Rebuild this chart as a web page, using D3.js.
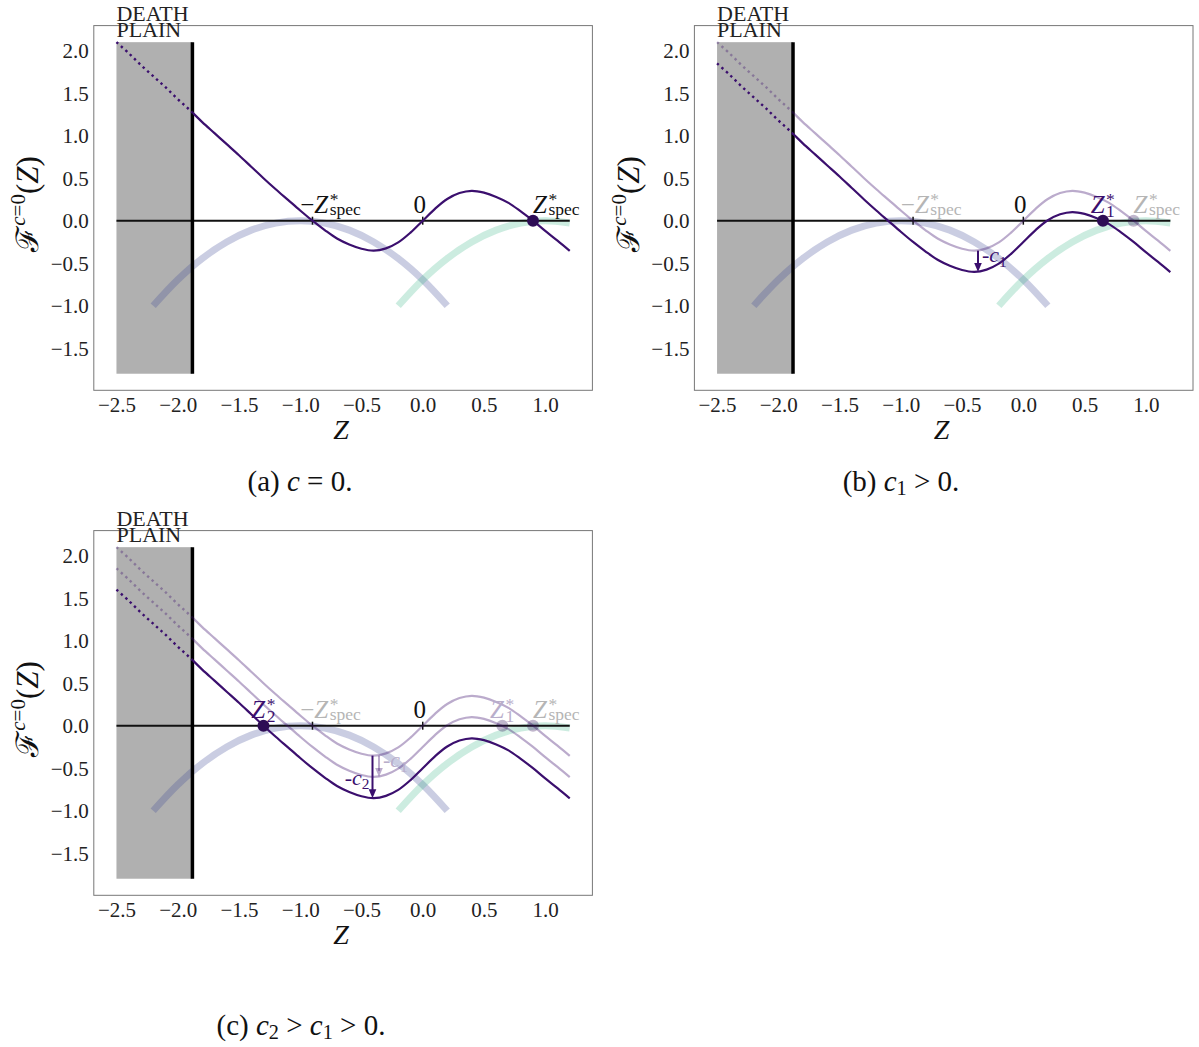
<!DOCTYPE html>
<html><head><meta charset="utf-8">
<script src="https://cdn.jsdelivr.net/npm/d3@7"></script>
<style>
body{margin:0;background:#fff}
text{font-family:"Liberation Serif","Times New Roman",serif;white-space:pre}
</style>
</head><body>
<svg id="chart" width="1199" height="1047"></svg>
<script>
// ---------------- data ----------------
const zGrid = [-2.5,-2.4,-2.3,-2.2,-2.1,-2.0,-1.9,-1.8,-1.7,-1.6,-1.5,-1.4,-1.3,-1.2,-1.1,-1.0,-0.9,-0.8,-0.7,-0.6,-0.5,-0.4,-0.3,-0.2,-0.1,0.0,0.1,0.2,0.3,0.4,0.5,0.6,0.7,0.8,0.9,1.0,1.1,1.2];
const F0 = [2.10,1.97,1.83,1.70,1.57,1.43,1.30,1.16,1.03,0.90,0.77,0.635,0.50,0.37,0.245,0.12,0.00,-0.11,-0.21,-0.28,-0.33,-0.352,-0.325,-0.255,-0.14,0.00,0.14,0.255,0.325,0.352,0.33,0.28,0.21,0.11,0.00,-0.12,-0.235,-0.355];
const blueZ = [-2.2,-2.0,-1.8,-1.6,-1.4,-1.2,-1.0,-0.8,-0.6,-0.4,-0.2,0.0,0.2];
const blueF = [-1.0,-0.694,-0.444,-0.25,-0.111,-0.028,0.0,-0.028,-0.111,-0.25,-0.444,-0.694,-1.0];
const greenZ = [-0.2,0.0,0.2,0.4,0.6,0.8,1.0,1.2];
const greenF = [-1.0,-0.694,-0.444,-0.25,-0.111,-0.028,0.0,-0.028];
const xTicks = [-2.5,-2.0,-1.5,-1.0,-0.5,0.0,0.5,1.0];
const yTicks = [-1.5,-1.0,-0.5,0.0,0.5,1.0,1.5,2.0];
const c1 = 0.25, c2 = 0.5;
const zSpec = 0.9, z1Star = 0.65, z2Star = -1.3, zDeath = -1.88, zMinF = -0.37;
const zLeft = -2.5, zRight = 1.2, fTop = 2.1, fBottom = -1.8;

// ---------------- styles ----------------
const PURPLE = "#3b0f6e", DOT = "#2e0d55", INK = "#111", GREY = "#b5b5b5", FADE = 0.35;

const svg = d3.select("#chart");
const plot = {left:93.8, right:592.4, top:25.6, bottom:390.3};
const xPad = 0.05*(zRight-zLeft), yPad = 0.05*(fTop-fBottom);
const x = d3.scaleLinear().domain([zLeft-xPad, zRight+xPad]).range([plot.left, plot.right]);
const y = d3.scaleLinear().domain([fBottom-yPad, fTop+yPad]).range([plot.bottom, plot.top]);

function rich(parent, px, py, parts, size, color, anchor){
  const t = parent.append("text").attr("x",px).attr("y",py).attr("font-size",size)
    .attr("fill",color).attr("text-anchor",anchor||"start");
  let cur=0, lastW=0;
  parts.forEach(p=>{
    const s = t.append("tspan").text(p.t);
    const fs = (p.sup||p.sub) ? size*(p.scale||0.7) : size;
    s.attr("font-size",fs);
    if(p.i) s.attr("font-style","italic");
    const lvl = p.sup ? -(p.raise!=null?p.raise:0.38)*size : p.sub ? (p.lower!=null?p.lower:0.18)*size : 0;
    s.attr("dy", lvl-cur); cur = lvl;
    let dx = 0;
    if(p.stack) dx -= lastW;
    if(p.dx) dx += p.dx;
    if(dx) s.attr("dx", dx);
    lastW = s.node().getComputedTextLength();
  });
  return t;
}
const negSpec = [{t:"−"},{t:"Z",i:1},{t:"*",sup:1,raise:0.3,dx:1.5},{t:"spec",sub:1,stack:1,lower:0.1}];
const spec = [{t:"Z",i:1},{t:"*",sup:1,raise:0.3,dx:1.5},{t:"spec",sub:1,stack:1,lower:0.1}];
const star1 = [{t:"Z",i:1},{t:"*",sup:1,raise:0.3,dx:1.5},{t:"1",sub:1,stack:1,lower:0.18}];
const star2 = [{t:"Z",i:1},{t:"*",sup:1,raise:0.3,dx:1.5},{t:"2",sub:1,stack:1,lower:0.18}];
const zero = [{t:"0"}];

const panels = [
  {dx:0, dy:0, shifts:[{c:0,fade:false}], dots:[{z:zSpec,fade:false}],
   labels:[{z:-1.0,parts:negSpec,color:INK},{z:0,parts:zero,color:INK,mid:1},{z:zSpec,parts:spec,color:INK}],
   arrows:[],
   caption:{cx:300, cy:491, parts:[{t:"(a) "},{t:"c",i:1},{t:" = 0."}]}},
  {dx:600.6, dy:0, shifts:[{c:0,fade:true},{c:c1,fade:false}], dots:[{z:zSpec,fade:true},{z:z1Star,fade:false}],
   labels:[{z:-1.0,parts:negSpec,color:GREY},{z:0,parts:zero,color:INK,mid:1},{z:z1Star-0.1,parts:star1,color:PURPLE},{z:zSpec,parts:spec,color:GREY}],
   arrows:[{z:zMinF,from:-0.352,to:-0.352-c1,fade:false,sub:"1",side:"right"}],
   caption:{cx:901, cy:491, parts:[{t:"(b) "},{t:"c",i:1},{t:"1",sub:1,lower:0.15},{t:" > 0."}]}},
  {dx:0, dy:505, shifts:[{c:0,fade:true},{c:c1,fade:true},{c:c2,fade:false}], dots:[{z:zSpec,fade:true},{z:z1Star,fade:true},{z:z2Star,fade:false}],
   labels:[{z:z2Star-0.1,parts:star2,color:PURPLE},{z:-1.0,parts:negSpec,color:GREY},{z:0,parts:zero,color:INK,mid:1},{z:z1Star-0.1,parts:star1,color:"#b9aecb"},{z:zSpec,parts:spec,color:GREY}],
   arrows:[{z:-0.357,from:-0.352,to:-0.352-c1,fade:true,sub:"1",side:"right"},{z:-0.41,from:-0.352,to:-0.352-c2,fade:false,sub:"2",side:"left"}],
   caption:{cx:301, cy:1035, parts:[{t:"(c) "},{t:"c",i:1},{t:"2",sub:1,lower:0.15},{t:" > "},{t:"c",i:1},{t:"1",sub:1,lower:0.15},{t:" > 0."}]}}
];

const line = d3.line().x(d=>x(d[0])).y(d=>y(d[1])).curve(d3.curveCatmullRom.alpha(0.5));

panels.forEach((P,pi)=>{
  const g = svg.append("g").attr("transform",`translate(${P.dx},${P.dy})`);
  const defs = g.append("defs");
  defs.append("clipPath").attr("id","cl"+pi).append("rect")
    .attr("x",plot.left).attr("y",plot.top).attr("width",x(zDeath)-plot.left).attr("height",plot.bottom-plot.top);
  defs.append("clipPath").attr("id","cr"+pi).append("rect")
    .attr("x",x(zDeath)).attr("y",plot.top).attr("width",plot.right-x(zDeath)).attr("height",plot.bottom-plot.top);

  // frame
  g.append("rect").attr("x",plot.left).attr("y",plot.top).attr("width",plot.right-plot.left)
    .attr("height",plot.bottom-plot.top).attr("fill","none").attr("stroke","#777").attr("stroke-width",1);

  // axes tick labels
  const ax = g.append("g").attr("transform",`translate(0,${plot.bottom})`)
    .call(d3.axisBottom(x).tickValues(xTicks).tickSize(0).tickPadding(7).tickFormat(d=>d3.format(".1f")(d).replace("-","−")));
  const ay = g.append("g").attr("transform",`translate(${plot.left},0)`)
    .call(d3.axisLeft(y).tickValues(yTicks).tickSize(0).tickPadding(5).tickFormat(d=>d3.format(".1f")(d).replace("-","−")));
  [ax,ay].forEach(a=>{a.select(".domain").remove(); a.selectAll("text").attr("font-size",21)
    .attr("font-family","Liberation Serif, serif").attr("fill","#222");});
  ay.selectAll("text").attr("dy","0.34em");

  // death plain
  g.append("rect").attr("x",x(zLeft)).attr("y",y(fTop)).attr("width",x(zDeath)-x(zLeft))
    .attr("height",y(fBottom)-y(fTop)).attr("fill","#b0b0b0");

  // bands
  g.append("path").datum(blueZ.map((z,i)=>[z,blueF[i]])).attr("d",line)
    .attr("fill","none").attr("stroke","#3f4d98").attr("stroke-opacity",0.28).attr("stroke-width",7);
  g.append("path").datum(greenZ.map((z,i)=>[z,greenF[i]])).attr("d",line)
    .attr("fill","none").attr("stroke","#35b583").attr("stroke-opacity",0.25).attr("stroke-width",7);

  // horizontal axis line and ticks
  g.append("line").attr("x1",x(zLeft)).attr("x2",x(zRight)).attr("y1",y(0)).attr("y2",y(0))
    .attr("stroke",INK).attr("stroke-width",2);
  [-zSpec,0].forEach(t=>g.append("line").attr("x1",x(t)).attr("x2",x(t)).attr("y1",y(0)-4).attr("y2",y(0)+4)
    .attr("stroke",INK).attr("stroke-width",1.5));

  // death line
  g.append("line").attr("x1",x(zDeath)).attr("x2",x(zDeath)).attr("y1",y(fTop)).attr("y2",y(fBottom))
    .attr("stroke","#000").attr("stroke-width",3.5);

  // curves
  P.shifts.forEach(s=>{
    const pts = zGrid.map((z,i)=>[z,F0[i]-s.c]);
    const op = s.fade?FADE:1;
    g.append("path").datum(pts).attr("d",line).attr("clip-path",`url(#cl${pi})`)
      .attr("fill","none").attr("stroke",PURPLE).attr("stroke-opacity",op).attr("stroke-width",2.4)
      .attr("stroke-dasharray","2.4 3.6");
    g.append("path").datum(pts).attr("d",line).attr("clip-path",`url(#cr${pi})`)
      .attr("fill","none").attr("stroke",PURPLE).attr("stroke-opacity",op).attr("stroke-width",2.2);
  });

  // arrows
  P.arrows.forEach(a=>{
    const col = PURPLE, op = a.fade?FADE:1;
    const xa = x(a.z), y1 = y(a.from), y2 = y(a.to);
    g.append("line").attr("x1",xa).attr("x2",xa).attr("y1",y1).attr("y2",y2-6)
      .attr("stroke",col).attr("stroke-opacity",op).attr("stroke-width",2);
    g.append("path").attr("d",`M${xa},${y2} L${xa-3.8},${y2-9} L${xa+3.8},${y2-9} Z`)
      .attr("fill",col).attr("fill-opacity",op);
    const mid = (y1+y2)/2;
    const parts = [{t:"-"},{t:"c",i:1},{t:a.sub,sub:1,lower:0.2}];
    rich(g, a.side==="right"?xa+4:xa-3, a.side==="right"?mid+1:mid+8, parts, 22,
      a.fade?"#b9aecb":PURPLE, a.side==="right"?"start":"end");
  });

  // dots
  P.dots.forEach(d=>{
    g.append("circle").attr("cx",x(d.z)).attr("cy",y(0)).attr("r",6)
      .attr("fill",DOT).attr("fill-opacity",d.fade?0.3:1);
  });

  // labels on axis
  P.labels.forEach(l=>{
    rich(g, x(l.z)-(l.mid?3:0), y(0)-8, l.parts, 25, l.color, l.mid?"middle":"start");
  });

  // DEATH PLAIN
  g.append("text").attr("x",x(zLeft)).attr("y",20.5).attr("font-size",22).attr("fill","#222").text("DEATH");
  g.append("text").attr("x",x(zLeft)).attr("y",36.5).attr("font-size",22).attr("fill","#222").text("PLAIN");

  // axis titles
  g.append("text").attr("x",341).attr("y",439).attr("font-size",28).attr("font-style","italic")
    .attr("text-anchor","middle").attr("fill","#111").text("Z");
  const yl = g.append("g").attr("transform","translate(38,204) rotate(-90)");
  rich(yl, 0, 0, [{t:"ℱ"},{t:"c",i:1,sup:1,raise:0.42,scale:0.68},{t:"=0",sup:1,raise:0.42,scale:0.68},{t:"("},{t:"Z",i:1},{t:")"}], 31, "#111", "middle");

  // caption
  rich(svg, P.caption.cx, P.caption.cy, P.caption.parts, 29, "#111", "middle");
});
</script>
</body></html>
